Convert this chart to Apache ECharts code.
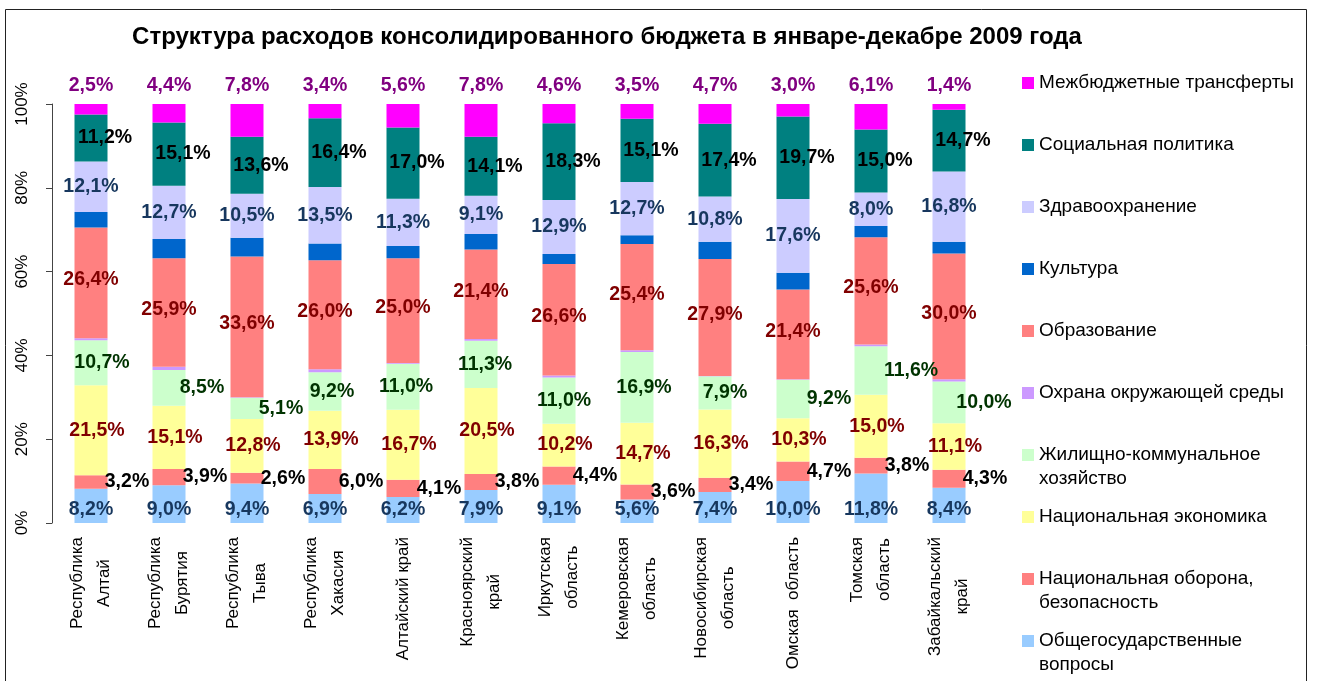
<!DOCTYPE html>
<html>
<head>
<meta charset="utf-8">
<script src="https://cdn.jsdelivr.net/npm/echarts@6/dist/echarts.min.js"></script>
<style>
  html, body { margin: 0; padding: 0; background: #fff; }
  #chart { width: 1317px; height: 681px; }
</style>
</head>
<body>
<div id="chart"></div>
<script>
  // регионы (подписи оси X)
  const regions = [
    'Республика\nАлтай', 'Республика\nБурятия', 'Республика\nТыва', 'Республика\nХакасия',
    'Алтайский край', 'Красноярский\nкрай', 'Иркутская\nобласть', 'Кемеровская\nобласть',
    'Новосибирская\nобласть', 'Омская  область', 'Томская\nобласть', 'Забайкальский\nкрай',
  ];

  // доли расходов, %
  const general = [8.2, 9.0, 9.4, 6.9, 6.2, 7.9, 9.1, 5.6, 7.4, 10.0, 11.8, 8.4];
  const defense = [3.2, 3.9, 2.6, 6.0, 4.1, 3.8, 4.4, 3.6, 3.4, 4.7, 3.8, 4.3];
  const economy = [21.5, 15.1, 12.8, 13.9, 16.7, 20.5, 10.2, 14.7, 16.3, 10.3, 15.0, 11.1];
  const housing = [10.7, 8.5, 5.1, 9.2, 11.0, 11.3, 11.0, 16.9, 7.9, 9.2, 11.6, 10.0];
  const environment = [0.5, 0.8, 0.1, 0.7, 0.2, 0.4, 0.5, 0.4, 0.1, 0.1, 0.4, 0.5];
  const education = [26.4, 25.9, 33.6, 26.0, 25.0, 21.4, 26.6, 25.4, 27.9, 21.4, 25.6, 30.0];
  const culture = [3.7, 4.6, 4.5, 4.0, 2.9, 3.7, 2.4, 2.1, 4.1, 4.0, 2.7, 2.8];
  const health = [12.1, 12.7, 10.5, 13.5, 11.3, 9.1, 12.9, 12.7, 10.8, 17.6, 8.0, 16.8];
  const social = [11.2, 15.1, 13.6, 16.4, 17.0, 14.1, 18.3, 15.1, 17.4, 19.7, 15.0, 14.7];
  const transfers = [2.5, 4.4, 7.8, 3.4, 5.6, 7.8, 4.6, 3.5, 4.7, 3.0, 6.1, 1.4];

  const yTicks = [0, 20, 40, 60, 80, 100];

  const font = 'Liberation Sans, Arial, sans-serif';
  const fmt = (p) => p.value.toFixed(1).replace('.', ',') + '%';

  // сдвиг подписей ЖКХ вправо (как в исходнике)
  const housingShift = [11, 33, 34, 7, 3, 4, 5, 7, 10, 36, 40, 35];

  const seriesDefs = [
    { name: 'Общегосударственные вопросы', data: general, color: '#99CCFF',
      label: { show: true, position: 'insideBottom', distance: 3, color: '#17375E' } },
    { name: 'Национальная оборона, безопасность', data: defense, color: '#FF8080',
      label: { show: true, position: 'inside', offset: [36, 0], color: '#000' } },
    { name: 'Национальная экономика', data: economy, color: '#FFFF99',
      label: { show: true, position: 'inside', offset: [6, 0], color: '#800000' } },
    { name: 'Жилищно-коммунальное хозяйство', data: housing, color: '#CCFFCC',
      label: { show: true, position: 'inside', color: '#003300' }, shift: housingShift },
    { name: 'Охрана окружающей среды', data: environment, color: '#CC99FF', label: { show: false } },
    { name: 'Образование', data: education, color: '#FF8080',
      label: { show: true, position: 'inside', offset: [0, -3], color: '#800000' } },
    { name: 'Культура', data: culture, color: '#0066CC', label: { show: false } },
    { name: 'Здравоохранение', data: health, color: '#CCCCFF',
      label: { show: true, position: 'inside', color: '#17375E' } },
    { name: 'Социальная политика', data: social, color: '#008080',
      label: { show: true, position: 'inside', offset: [14, 0], color: '#000' } },
    { name: 'Межбюджетные трансферты', data: transfers, color: '#FF00FF',
      label: { show: true, position: 'top', distance: 8, color: '#800080' } },
  ];

  // вторая строка подписи в легенде; пустая первая строка выравнивает маркер по первой строке текста
  const legendText = {
    'Жилищно-коммунальное хозяйство': '\nЖилищно-коммунальное\nхозяйство',
    'Национальная оборона, безопасность': '\nНациональная оборона,\nбезопасность',
    'Общегосударственные вопросы': '\nОбщегосударственные\nвопросы',
  };

  const series = seriesDefs.map((s) => ({
    name: s.name,
    type: 'bar',
    stack: 'total',
    barWidth: 33,
    itemStyle: { color: s.color },
    label: Object.assign({
      formatter: fmt,
      fontFamily: font,
      fontSize: 19.5,
      fontWeight: 'bold',
    }, s.label),
    data: s.shift
      ? s.data.map((v, i) => ({ value: v, label: { offset: [s.shift[i], 0] } }))
      : s.data,
  }));

  // легенда справа, сверху вниз в обратном порядке
  const legends = seriesDefs.slice().reverse().map((s, i) => {
    const center = 83 + 62 * i;
    const twoLines = !!legendText[s.name];
    return {
      data: [s.name],
      orient: 'vertical',
      left: 1022,
      top: twoLines ? center - 36 : center - 12,
      padding: 0,
      icon: 'rect',
      itemWidth: 12,
      itemHeight: 12,
      selectedMode: false,
      formatter: (name) => legendText[name] || name,
      textStyle: {
        fontFamily: font,
        fontSize: 19,
        color: '#000',
        lineHeight: 24,
      },
    };
  });

  const chart = echarts.init(document.getElementById('chart'));

  chart.setOption({
    animation: false,
    backgroundColor: '#fff',
    title: {
      text: 'Структура расходов консолидированного бюджета в январе-декабре 2009 года',
      left: 602,
      textAlign: 'center',
      top: 20,
      textStyle: { fontFamily: font, fontSize: 24, fontWeight: 'bold', color: '#000' },
    },
    graphic: [{
      type: 'rect',
      shape: { x: 5.5, y: 9.5, width: 1301, height: 700 },
      style: { fill: 'none', stroke: '#222', lineWidth: 1 },
      silent: true,
    }],
    legend: legends,
    grid: { left: 52, top: 104, width: 936, height: 419 },
    xAxis: {
      type: 'category',
      data: regions,
      axisLine: { show: false },
      axisTick: { show: false },
      axisLabel: {
        rotate: 90,
        interval: 0,
        margin: 14,
        formatter: (v) => v.split('\n').map((l) => '{c|' + l + '}').join('\n'),
        rich: {
          c: { align: 'center', fontFamily: font, fontSize: 17, lineHeight: 27, color: '#000' },
        },
      },
    },
    yAxis: {
      type: 'value',
      min: yTicks[0],
      max: yTicks[yTicks.length - 1],
      interval: 20,
      splitLine: { show: false },
      axisLine: { show: true, lineStyle: { color: '#444' } },
      axisTick: { show: true, length: 6, lineStyle: { color: '#444' } },
      axisLabel: {
        rotate: 90,
        margin: 21,
        formatter: '{value}%',
        fontFamily: font,
        fontSize: 17,
        color: '#000',
      },
    },
    series: series,
  });
</script>
</body>
</html>
